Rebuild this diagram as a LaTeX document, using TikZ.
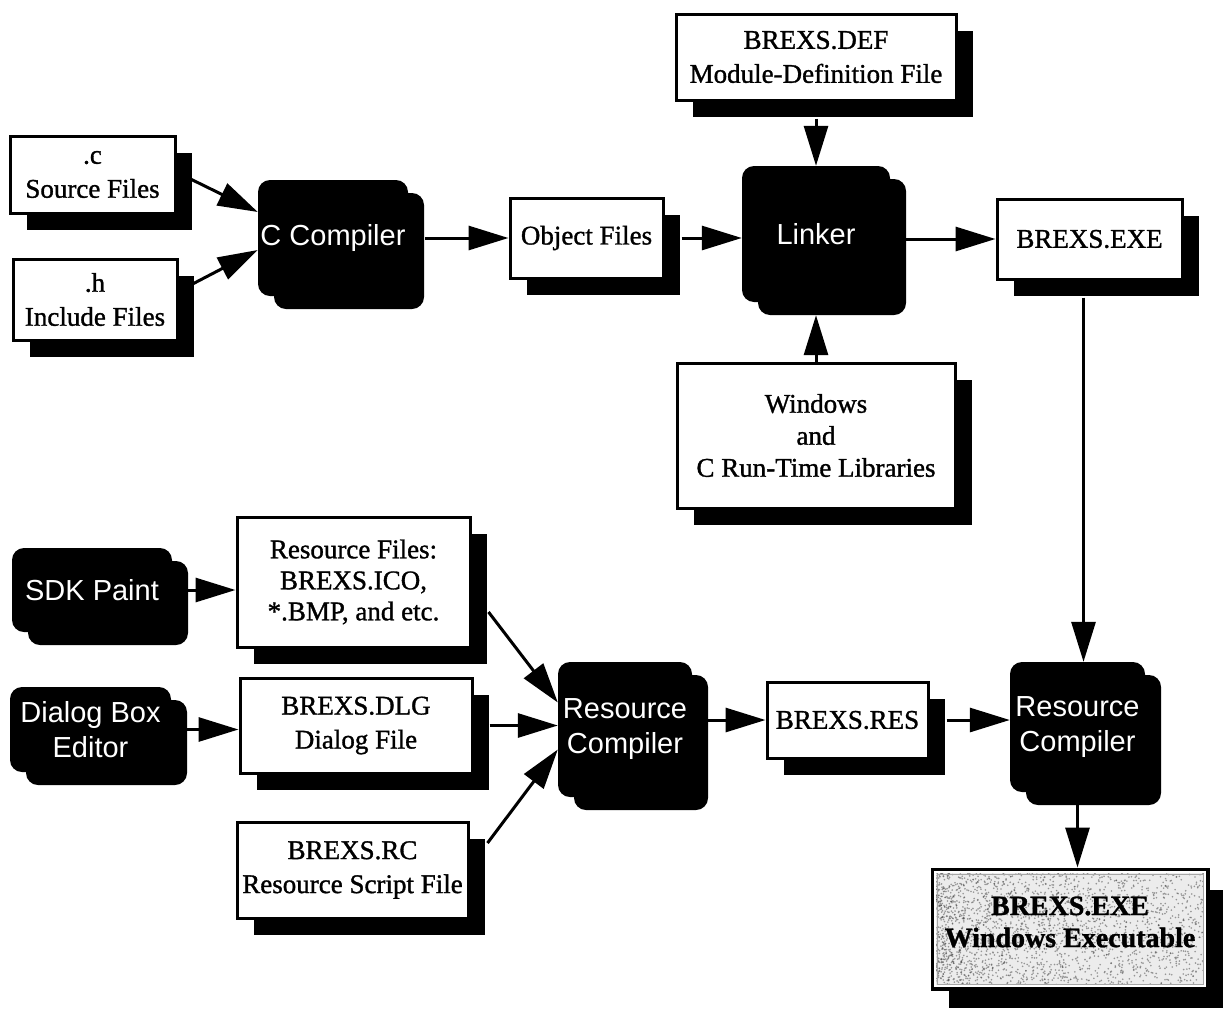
\documentclass[tikz,border=0pt]{standalone}
\usepackage{fontspec}
\setmainfont{Liberation Serif}
\setsansfont{Liberation Sans}
\newfontfamily\filefont{Liberation Serif}[FakeBold=1.2]
\usetikzlibrary{arrows.meta,shadows,calc}

\begin{document}
\begin{tikzpicture}[x=1pt,y=-1pt,
  filebox/.style={draw=black,line width=3pt,fill=white,inner sep=0pt,align=center,
    font=\filefont\fontsize{27}{34}\selectfont,
    drop shadow={shadow xshift=17pt,shadow yshift=-17pt,fill=black,opacity=1}},
  toolbox/.style={fill=black,rounded corners=12pt,inner sep=0pt,align=center,text=white,
    font=\sffamily\fontsize{29}{35}\selectfont,
    drop shadow={shadow xshift=16pt,shadow yshift=-13pt,fill=black,opacity=1}},
  flow/.style={line width=3pt,-{Triangle[length=40pt,width=24pt]}},
]
\useasboundingbox (0,0) rectangle (1226,1015);

% source side of the build
\node[filebox,minimum width=165pt,minimum height=77pt] (src) at (92.5,174.5) {.c\\Source Files};
\node[filebox,minimum width=164pt,minimum height=81pt] (inc) at (95,299.5) {.h\\Include Files};
\node[toolbox,minimum width=150pt,minimum height=116pt] (cc) at (333,238) {C Compiler};
\node[filebox,minimum width=153pt,minimum height=80pt] (obj) at (586.5,238) {Object Files};

% linking
\node[filebox,minimum width=280pt,minimum height=86pt] (def) at (816,57) {BREXS.DEF\\Module-Definition File};
\node[toolbox,minimum width=148pt,minimum height=136pt] (lnk) at (816,234) {Linker};
\node[filebox,minimum width=278pt,minimum height=145pt,font=\filefont\fontsize{27}{32}\selectfont] (lib) at (816,435.5) {Windows\\and\\C Run-Time Libraries};
\node[filebox,minimum width=185pt,minimum height=80pt] (exe) at (1089.5,239) {BREXS.EXE};

% resources
\node[toolbox,minimum width=160pt,minimum height=84pt] (sdk) at (92,590) {SDK Paint};
\node[toolbox,minimum width=161pt,minimum height=85pt] (dbe) at (90.5,729.5) {Dialog Box\\Editor};
\node[filebox,minimum width=233pt,minimum height=130pt,font=\filefont\fontsize{27}{31}\selectfont] (resf) at (353.5,582) {Resource Files:\\BREXS.ICO,\\*.BMP, and etc.};
\node[filebox,minimum width=232pt,minimum height=95pt] (dlg) at (356,725.5) {BREXS.DLG\\Dialog File};
\node[filebox,minimum width=231pt,minimum height=96pt] (rcf) at (352.5,870) {BREXS.RC\\Resource Script File};
\node[toolbox,minimum width=134pt,minimum height=135pt] (rc1) at (625,729.5) {Resource\\Compiler};
\node[filebox,minimum width=161pt,minimum height=76pt] (res) at (847.5,720) {BREXS.RES};
\node[toolbox,minimum width=135pt,minimum height=130pt] (rc2) at (1077.5,727) {Resource\\Compiler};

% final executable: framed box with a speckled grey fill
\node[draw=black,line width=5pt,fill=gray!15,inner sep=0pt,minimum width=274pt,minimum height=118pt,
  drop shadow={shadow xshift=16pt,shadow yshift=-20pt,fill=black,opacity=1}] (fin) at (1070,929) {};
\begin{scope}
  \clip ($(fin.north west)+(5,5)$) rectangle ($(fin.south east)+(-5,-5)$);
  \pgfmathsetseed{4711}
  \foreach \i in {1,...,2600}
    \fill[black!75,opacity=0.5] ($(fin.north west)+({274*pow(rnd,1.6)},{118*rnd})$) circle (0.9pt);
\end{scope}
\draw[white,line width=1.5pt] ($(fin.north west)+(4.5,4.5)$) rectangle ($(fin.south east)+(-4.5,-4.5)$);
\draw[gray!70,line width=1pt] ($(fin.north west)+(6.5,6.5)$) rectangle ($(fin.south east)+(-6.5,-6.5)$);
\node[align=center,font=\filefont\bfseries\fontsize{28}{32}\selectfont] (fintxt) at (1070,922) {BREXS.EXE\\Windows Executable};

% connectors
\draw[flow] ($(src.east)+(15,5)$) -- ($(cc.west)+(0,-26)$);
\draw[flow] ($(inc.east)+(15,-16)$) -- ($(cc.west)+(0,12)$);
\draw[flow] ($(cc.east)+(17,0)$) -- (obj.west);
\draw[flow] ($(obj.east)+(17,0)$) -- (lnk.west |- obj.east);
\draw[flow] ($(def.south)+(0,17)$) -- (lnk.north);
\draw[flow] (lib.north) -- ($(lnk.south)+(0,13)$);
\draw[flow] ($(lnk.east |- exe.west)+(16,0)$) -- (exe.west);
\coordinate (exedrop) at ($(exe.south)+(-6,17)$);
\draw[flow] (exedrop) -- (exedrop |- rc2.north);
\draw[flow] ($(sdk.east)+(16,0)$) -- (resf.west |- sdk.east);
\draw[flow] ($(dbe.east)+(16,0)$) -- (dlg.west |- dbe.east);
\draw[flow] ($(resf.east)+(17,30)$) -- ($(rc1.west)+(0,-27)$);
\draw[flow] ($(dlg.east)+(16,0)$) -- (rc1.west |- dlg.east);
\draw[flow] ($(rcf.east)+(18,-27)$) -- ($(rc1.west)+(0,20)$);
\draw[flow] ($(rc1.east |- res.west)+(16,0)$) -- (res.west);
\draw[flow] ($(res.east)+(17,0)$) -- (rc2.west |- res.east);
\draw[flow] ($(rc2.south)+(0,13)$) -- (rc2.south |- fin.north);
\end{tikzpicture}
\end{document}
